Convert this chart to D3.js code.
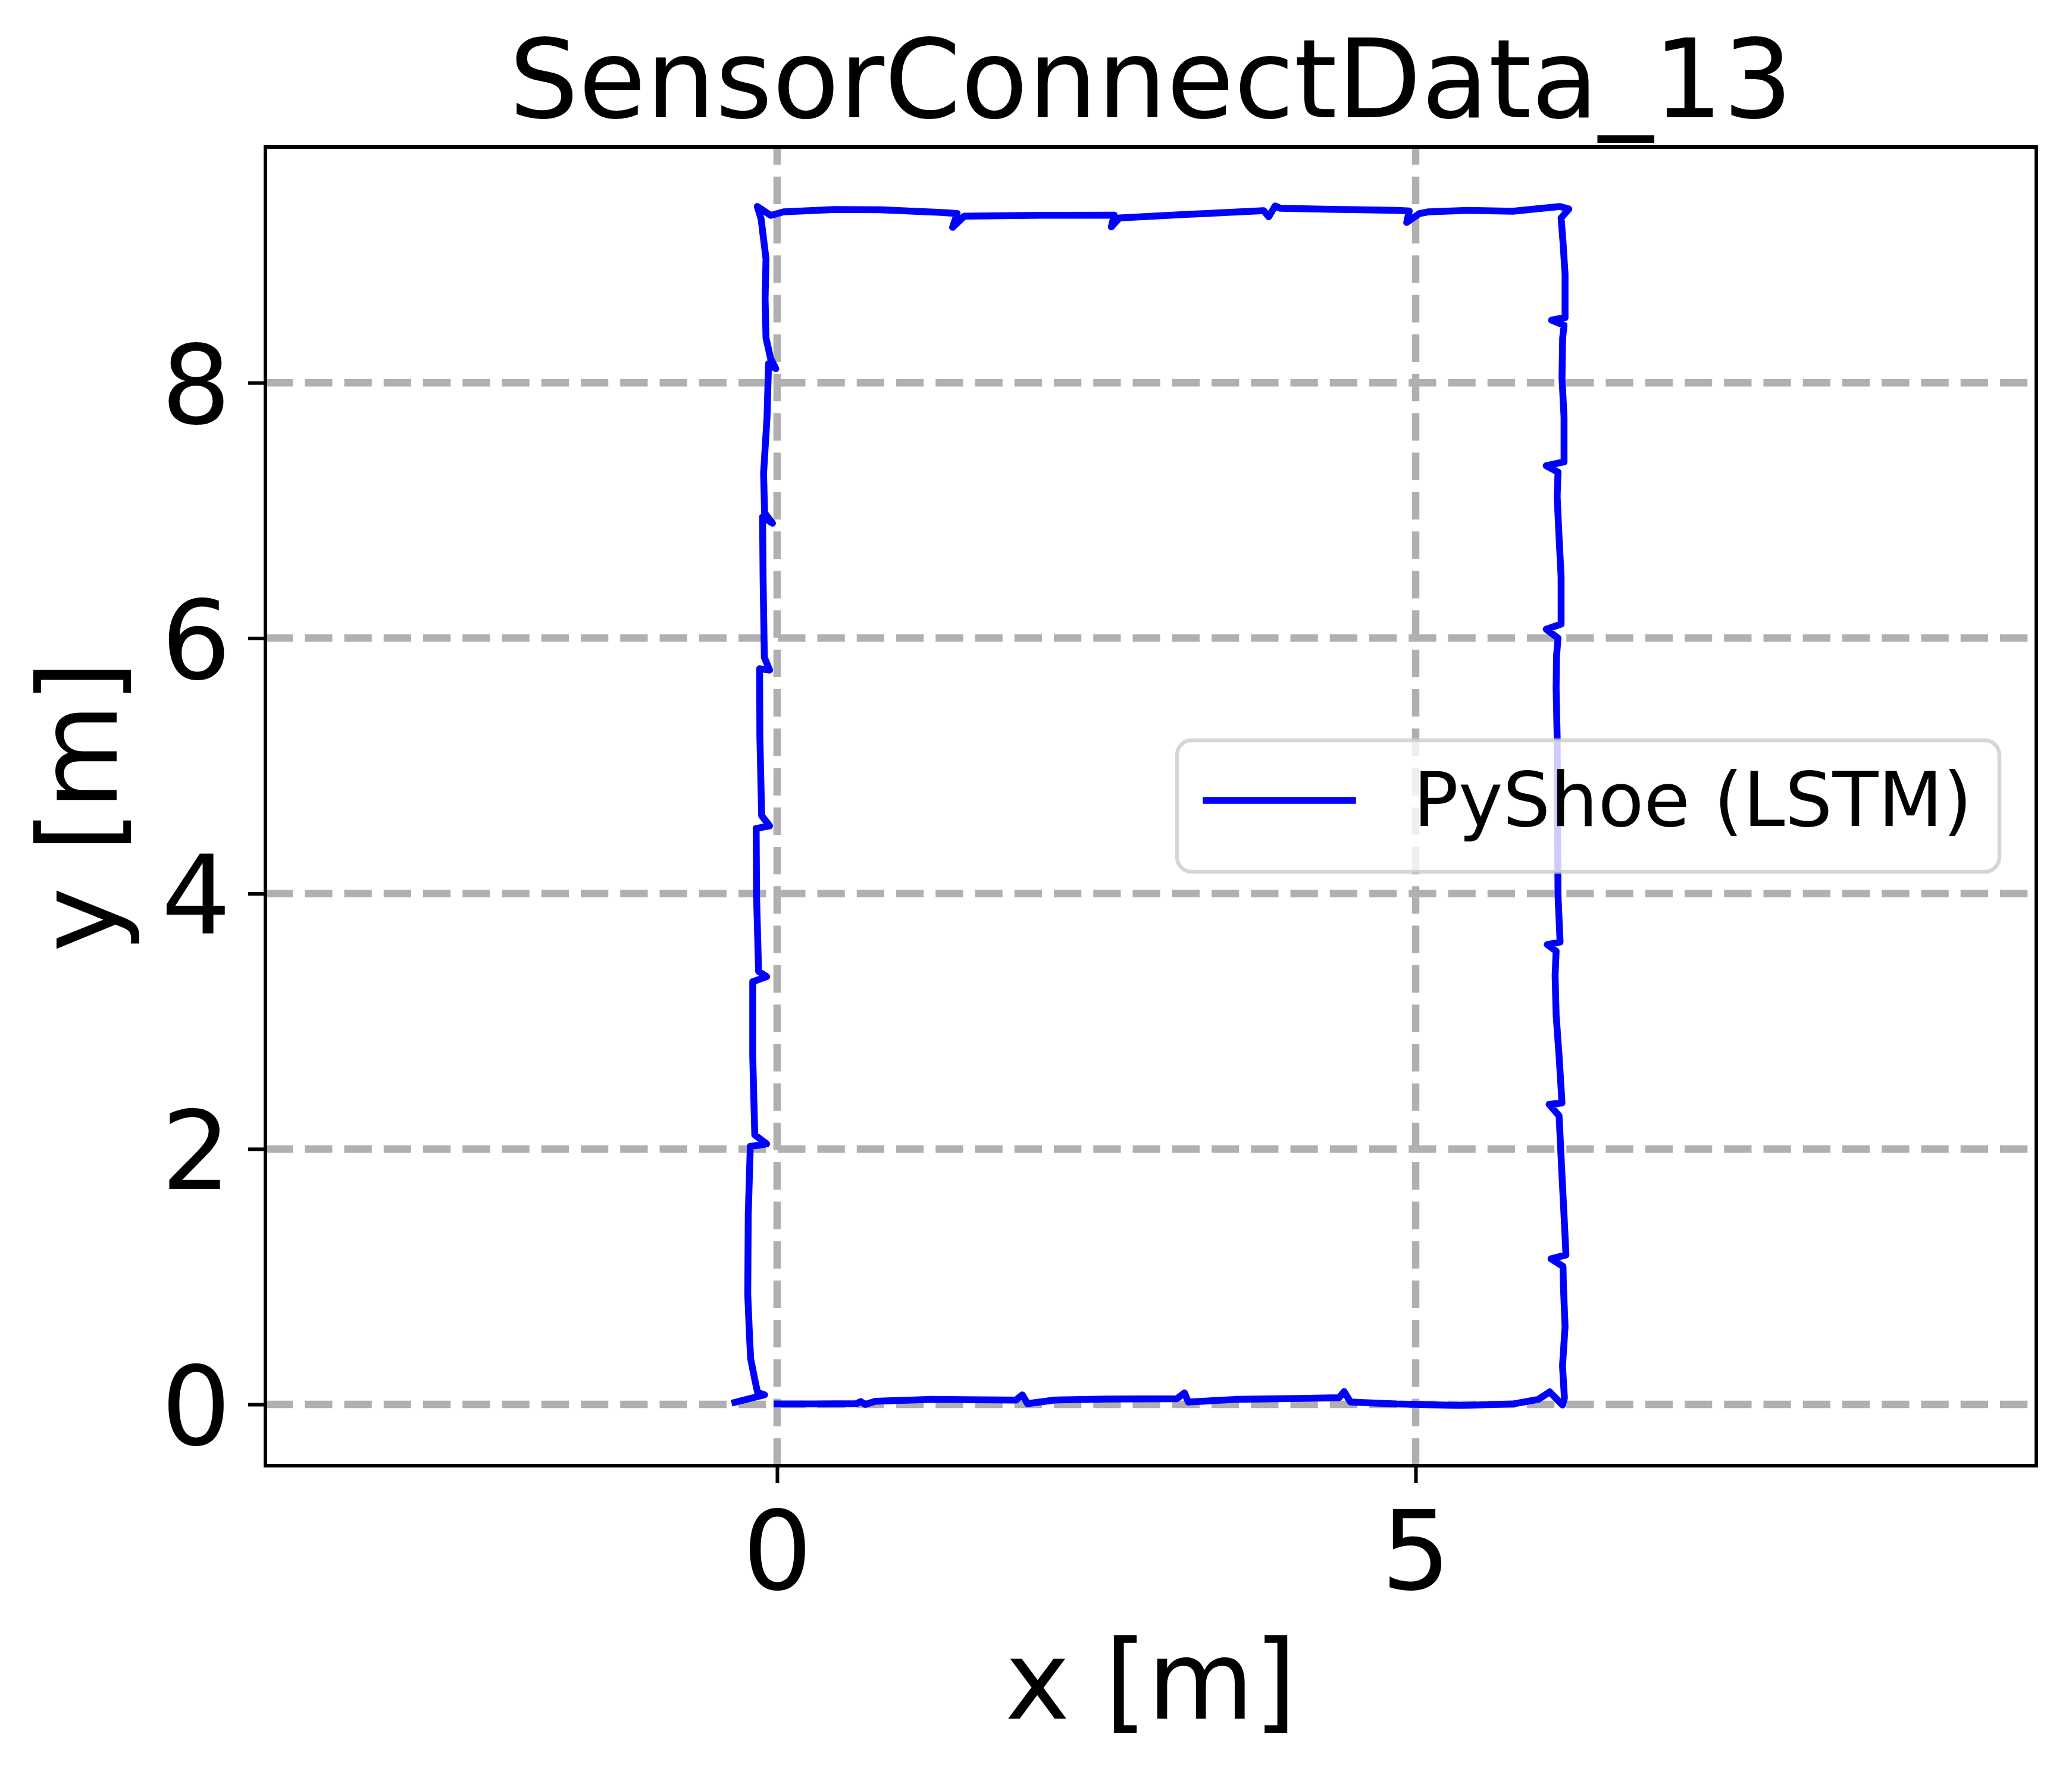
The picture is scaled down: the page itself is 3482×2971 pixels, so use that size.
<!DOCTYPE html>
<html>
<head>
<meta charset="utf-8">
<script src="https://cdn.jsdelivr.net/npm/d3@7/dist/d3.min.js"></script>
<style>
  body { margin: 0; background: #fff; }
  text { font-family: "DejaVu Sans", sans-serif; fill: #000; }
</style>
</head>
<body>
<svg id="chart"></svg>
<script>
// walked trajectory, one array per side of the loop, [x, y] in metres
const bottomLeg = [
  [0.00, 0.003], [0.30, 0.004], [0.62, 0.006], [0.655, 0.022], [0.69, 0.000],
  [0.77, 0.024], [0.96, 0.031], [1.21, 0.039], [1.57, 0.036], [1.87, 0.034],
  [1.92, 0.075], [1.96, 0.006], [2.17, 0.034], [2.58, 0.042], [3.13, 0.044],
  [3.19, 0.090], [3.22, 0.019], [3.59, 0.039], [4.09, 0.047], [4.40, 0.052],
  [4.44, 0.100], [4.49, 0.019], [4.85, 0.003], [5.35, -0.008], [5.76, 0.003],
  [5.96, 0.039], [6.05, 0.098], [6.15, -0.005]
];
const rightLeg = [
  [6.165, 0.05], [6.15, 0.30], [6.17, 0.61], [6.157, 0.93], [6.154, 1.08],
  [6.06, 1.14], [6.177, 1.17], [6.162, 1.48], [6.146, 1.79], [6.131, 2.10],
  [6.123, 2.26], [6.045, 2.35], [6.146, 2.36], [6.123, 2.73], [6.100, 3.05],
  [6.092, 3.36], [6.100, 3.55], [6.030, 3.60], [6.131, 3.62], [6.115, 3.98],
  [6.111, 4.61], [6.108, 5.23], [6.100, 5.61], [6.103, 5.86], [6.115, 6.00],
  [6.022, 6.07], [6.139, 6.11], [6.139, 6.48], [6.123, 6.79], [6.108, 7.11],
  [6.115, 7.30], [6.022, 7.35], [6.162, 7.38], [6.162, 7.73], [6.146, 8.04],
  [6.151, 8.35], [6.162, 8.45], [6.064, 8.49], [6.170, 8.51], [6.170, 8.85],
  [6.154, 9.10], [6.139, 9.29], [6.20, 9.36]
];
const topLeg = [
  [6.13, 9.38], [5.76, 9.343], [5.41, 9.35], [5.10, 9.338], [5.03, 9.325],
  [4.93, 9.255], [4.95, 9.345], [4.85, 9.35], [4.34, 9.358], [3.94, 9.366],
  [3.90, 9.385], [3.85, 9.30], [3.81, 9.347], [3.23, 9.319], [2.68, 9.29],
  [2.617, 9.22], [2.64, 9.313], [2.07, 9.311], [1.465, 9.304], [1.374, 9.217],
  [1.41, 9.325], [1.263, 9.335], [0.808, 9.354], [0.455, 9.357], [0.05, 9.338],
  [-0.05, 9.31]
];
const leftLeg = [
  [-0.155, 9.38], [-0.125, 9.28], [-0.087, 8.97], [-0.094, 8.66], [-0.087, 8.35],
  [-0.051, 8.19], [-0.010, 8.11], [-0.067, 8.15], [-0.079, 7.73], [-0.106, 7.29],
  [-0.098, 6.98], [-0.036, 6.90], [-0.114, 6.95], [-0.110, 6.48], [-0.100, 5.85],
  [-0.059, 5.75], [-0.137, 5.76], [-0.135, 5.23], [-0.121, 4.61], [-0.059, 4.53],
  [-0.164, 4.51], [-0.161, 3.98], [-0.145, 3.39], [-0.082, 3.35], [-0.191, 3.31],
  [-0.191, 2.73], [-0.175, 2.11], [-0.082, 2.04], [-0.210, 2.02], [-0.226, 1.49],
  [-0.230, 0.86], [-0.215, 0.51], [-0.207, 0.357], [-0.176, 0.20], [-0.153, 0.093],
  [-0.098, 0.075], [-0.331, 0.016]
];

const xTicks = [0, 5];
const yTicks = [0, 2, 4, 6, 8];
const xDomain = [-4.007, 9.86];
const yDomain = [-0.48, 9.846];
const titleText = "SensorConnectData_13";
const xLabel = "x [m]";
const yLabel = "y [m]";
const seriesName = "PyShoe (LSTM)";

const width = 3482;
const height = 2971;
const box = { left: 446, right: 3422, top: 247, bottom: 2463 };
const fontSize = 184;
const tickLen = 29;
const lineWidth = 11.5;

const svg = d3.select("#chart")
    .attr("width", width)
    .attr("height", height)
    .attr("viewBox", `0 0 ${width} ${height}`);

const x = d3.scaleLinear().domain(xDomain).range([box.left, box.right]);
const y = d3.scaleLinear().domain(yDomain).range([box.bottom, box.top]);

svg.append("clipPath")
    .attr("id", "plot-area")
  .append("rect")
    .attr("x", box.left)
    .attr("y", box.top)
    .attr("width", box.right - box.left)
    .attr("height", box.bottom - box.top);

// dashed grid (horizontal lines run left->right, vertical bottom->top)
const grid = svg.append("g")
    .attr("stroke", "#b0b0b0")
    .attr("stroke-width", 12.5)
    .attr("stroke-dasharray", "46.25,20");

grid.selectAll("line.h")
    .data(yTicks)
  .enter().append("line")
    .attr("class", "h")
    .attr("x1", box.left)
    .attr("x2", box.right)
    .attr("y1", d => y(d))
    .attr("y2", d => y(d));

grid.selectAll("line.v")
    .data(xTicks)
  .enter().append("line")
    .attr("class", "v")
    .attr("x1", d => x(d))
    .attr("x2", d => x(d))
    .attr("y1", box.bottom)
    .attr("y2", box.top);

// trajectory
const path = bottomLeg.concat(rightLeg, topLeg, leftLeg);
const line = d3.line()
    .x(d => x(d[0]))
    .y(d => y(d[1]));

svg.append("path")
    .datum(path)
    .attr("clip-path", "url(#plot-area)")
    .attr("d", line)
    .attr("fill", "none")
    .attr("stroke", "#0000ff")
    .attr("stroke-width", lineWidth)
    .attr("stroke-linejoin", "round")
    .attr("stroke-linecap", "square");

// axes
const xAxis = svg.append("g")
    .attr("transform", `translate(0,${box.bottom})`)
    .call(d3.axisBottom(x).tickValues(xTicks).tickFormat(d3.format("d"))
      .tickSize(tickLen).tickPadding(tickLen));

const yAxis = svg.append("g")
    .attr("transform", `translate(${box.left},0)`)
    .call(d3.axisLeft(y).tickValues(yTicks).tickFormat(d3.format("d"))
      .tickSize(tickLen).tickPadding(tickLen));

[xAxis, yAxis].forEach(g => {
  g.attr("font-family", null).attr("font-size", null);
  g.select(".domain").remove();
  g.selectAll(".tick line")
      .attr("stroke", "#000")
      .attr("stroke-width", 6);
  g.selectAll(".tick text")
      .style("font-size", `${fontSize}px`);
});

xAxis.selectAll(".tick text")
    .attr("y", 207)
    .attr("dy", null);

yAxis.selectAll(".tick text")
    .attr("dy", "0.364em");

// frame
svg.append("rect")
    .attr("x", box.left)
    .attr("y", box.top)
    .attr("width", box.right - box.left)
    .attr("height", box.bottom - box.top)
    .attr("fill", "none")
    .attr("stroke", "#000")
    .attr("stroke-width", 6);

// title and labels
svg.append("text")
    .attr("x", (box.left + box.right) / 2)
    .attr("y", 197)
    .attr("text-anchor", "middle")
    .style("font-size", `${fontSize}px`)
    .text(titleText);

svg.append("text")
    .attr("x", (box.left + box.right) / 2)
    .attr("y", 2888)
    .attr("text-anchor", "middle")
    .style("font-size", `${fontSize}px`)
    .text(xLabel);

svg.append("text")
    .attr("transform", `translate(196,${(box.top + box.bottom) / 2}) rotate(-90)`)
    .attr("text-anchor", "middle")
    .style("font-size", `${fontSize}px`)
    .text(yLabel);

// legend
const legend = svg.append("g");

legend.append("rect")
    .attr("x", 1978)
    .attr("y", 1244)
    .attr("width", 1382)
    .attr("height", 221)
    .attr("rx", 24.6)
    .attr("fill", "#fff")
    .attr("fill-opacity", 0.8)
    .attr("stroke", "#cccccc")
    .attr("stroke-opacity", 0.8)
    .attr("stroke-width", 6.5);

legend.append("line")
    .attr("x1", 2027)
    .attr("x2", 2273)
    .attr("y1", 1345)
    .attr("y2", 1345)
    .attr("stroke", "#0000ff")
    .attr("stroke-width", lineWidth)
    .attr("stroke-linecap", "square");

legend.append("text")
    .attr("x", 2375)
    .attr("y", 1388)
    .style("font-size", "126px")
    .text(seriesName);
</script>
</body>
</html>
